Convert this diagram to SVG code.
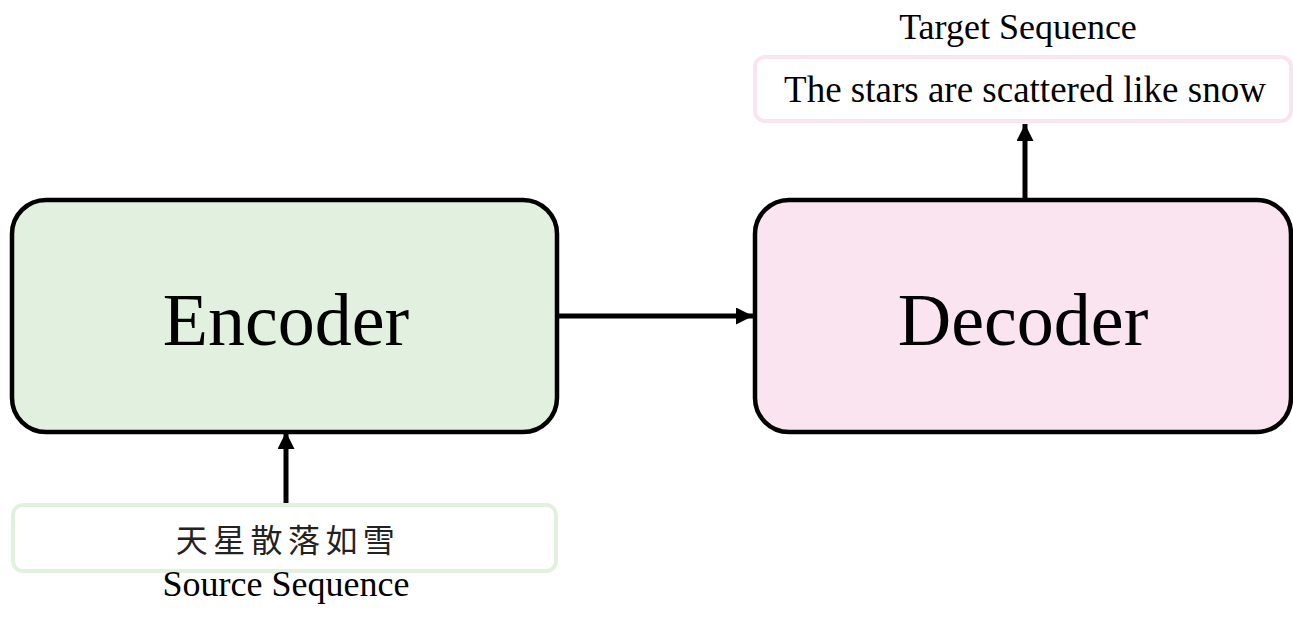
<svg xmlns="http://www.w3.org/2000/svg" width="1293" height="625" viewBox="0 0 1293 625">
<defs>
<marker id="ah" viewBox="0 0 10 10" refX="10" refY="5" markerWidth="3.4" markerHeight="3.4" orient="auto" markerUnits="strokeWidth"><path d="M0,0 L10,5 L0,10 z" fill="#000"/></marker>
<style>
.t{font-family:"Liberation Serif","Times New Roman",serif;fill:#000;text-anchor:middle}
.conn{stroke:#000;stroke-width:5;fill:none;marker-end:url(#ah)}
</style>
</defs>
<rect width="1293" height="625" fill="#fff"/>
<g id="encoder">
<rect x="12" y="200" width="545" height="232" rx="34" fill="#e2f0df" stroke="#000" stroke-width="4.5"/>
<text class="t" x="286" y="345" font-size="74">Encoder</text>
</g>
<g id="decoder">
<rect x="755" y="200" width="536" height="232" rx="34" fill="#fae4f0" stroke="#000" stroke-width="4.5"/>
<text class="t" x="1023" y="345" font-size="74">Decoder</text>
</g>
<g id="source">
<rect x="13" y="505" width="543" height="66" rx="10" fill="#fff" stroke="#e2f0df" stroke-width="4"/>
<text x="288" y="552" font-size="32" text-anchor="middle" font-family="'Noto Sans CJK SC',sans-serif" fill="#222" letter-spacing="5.4">天星散落如雪</text>
<text class="t" x="286" y="596" font-size="36">Source Sequence</text>
</g>
<g id="target">
<rect x="755" y="57" width="536" height="64" rx="10" fill="#fff" stroke="#fae4f0" stroke-width="4"/>
<text class="t" x="1025" y="102" font-size="37">The stars are scattered like snow</text>
<text class="t" x="1018" y="39" font-size="36">Target Sequence</text>
</g>
<g id="connectors">
<line class="conn" x1="559" y1="316" x2="753" y2="316"/>
<line class="conn" x1="286" y1="503" x2="286" y2="432"/>
<line class="conn" x1="1025" y1="198" x2="1025" y2="124"/>
</g>
</svg>
